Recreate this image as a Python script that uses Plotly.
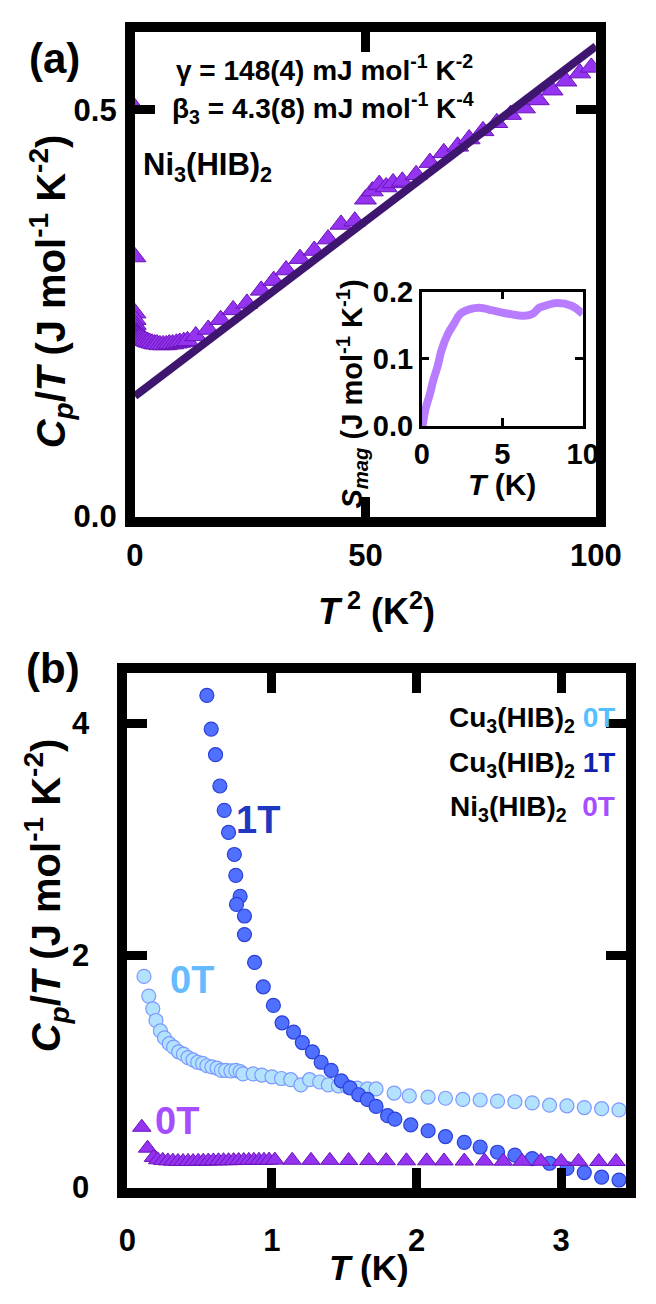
import plotly.graph_objects as go

# ---------------- data ----------------
# panel (a): Ni3(HIB)2, Cp/T vs T^2
a_T2 = [0.01, 0.02, 0.03, 0.05, 0.08, 0.12, 0.18, 0.25, 0.33, 0.42, 0.52, 0.64, 0.77, 0.91, 1.05,
        1.3, 1.6, 1.96, 2.34, 2.79, 3.2, 3.72, 4.28, 4.8, 5.43, 6.1, 6.76, 7.45, 8.18, 9.0, 9.73,
        10.6, 11.4, 13.2, 15.9, 18.6, 21.3, 24.3, 27.4, 30.1, 32.8, 35.8, 38.9, 41.9, 44.7, 47.7,
        50.0, 51.5, 53.0, 54.5, 56.0, 58.0, 61.0, 64.0, 67.0, 70.0, 72.5, 75.5, 78.5, 81.5, 84.5,
        87.5, 90.5, 93.5, 96.5, 99.0]
a_CpT = [0.502, 0.319, 0.25, 0.242, 0.236, 0.232, 0.228, 0.226, 0.225, 0.224, 0.223, 0.222, 0.222,
         0.221, 0.22, 0.219, 0.218, 0.217, 0.216, 0.215, 0.214, 0.213, 0.212, 0.212, 0.211, 0.211,
         0.211, 0.212, 0.212, 0.213, 0.214, 0.215, 0.216, 0.222, 0.23, 0.242, 0.254, 0.262, 0.278,
         0.29, 0.303, 0.317, 0.327, 0.341, 0.359, 0.363, 0.39, 0.40, 0.408, 0.405, 0.41, 0.412,
         0.42, 0.435, 0.447, 0.455, 0.464, 0.474, 0.484, 0.494, 0.502, 0.512, 0.524, 0.535, 0.545,
         0.552]
fit_T2 = [0.0, 100.0]
fit_CpT = [0.148, 0.578]

# inset: magnetic entropy
S_T = [0.05, 0.24, 0.5, 0.73, 1.0, 1.22, 1.6, 2.0, 2.4, 3.0, 3.6, 4.4, 5.4, 6.4, 6.9, 7.3, 7.8,
       8.4, 9.3, 10.0]
S_mag = [0.0, 0.026, 0.047, 0.069, 0.09, 0.112, 0.136, 0.152, 0.167, 0.174, 0.176, 0.172, 0.167,
         0.164, 0.167, 0.176, 0.180, 0.183, 0.179, 0.167]

# panel (b)
cu0_T = [0.115, 0.148, 0.176, 0.198, 0.229, 0.257, 0.29, 0.32, 0.355, 0.388, 0.42, 0.454, 0.487,
         0.52, 0.55, 0.585, 0.62, 0.65, 0.68, 0.716, 0.75, 0.78, 0.80, 0.87, 0.93, 1.0, 1.066, 1.13,
         1.2, 1.26, 1.33, 1.39, 1.46, 1.52, 1.59, 1.66, 1.72, 1.845, 1.95, 2.08, 2.2, 2.32, 2.44,
         2.56, 2.68, 2.80, 2.92, 3.04, 3.16, 3.28, 3.40]
cu0_CpT = [1.82, 1.65, 1.54, 1.44, 1.35, 1.29, 1.24, 1.21, 1.17, 1.15, 1.12, 1.10, 1.08, 1.07, 1.05,
           1.04, 1.03, 1.01, 1.01, 1.006, 1.01, 1.0, 0.98, 0.98, 0.97, 0.955, 0.94, 0.93, 0.885,
           0.93, 0.91, 0.885, 0.876, 0.87, 0.857, 0.85, 0.85, 0.815, 0.79, 0.78, 0.77, 0.76, 0.755,
           0.745, 0.74, 0.73, 0.71, 0.705, 0.69, 0.68, 0.67]
cu1_T = [0.55, 0.58, 0.61, 0.64, 0.67, 0.70, 0.74, 0.75, 0.78, 0.755, 0.81, 0.81, 0.88, 0.94, 1.01,
         1.07, 1.15, 1.21, 1.28, 1.34, 1.41, 1.48, 1.54, 1.60, 1.66, 1.72, 1.80, 1.85, 1.96, 2.08,
         2.20, 2.33, 2.44, 2.56, 2.68, 2.80, 2.92, 3.04, 3.16, 3.28, 3.40]
cu1_CpT = [4.24, 3.95, 3.73, 3.46, 3.25, 3.06, 2.87, 2.69, 2.51, 2.44, 2.34, 2.18, 1.94, 1.73, 1.57,
           1.42, 1.34, 1.25, 1.17, 1.08, 1.01, 0.92, 0.86, 0.80, 0.76, 0.70, 0.62, 0.59, 0.54, 0.49,
           0.44, 0.39, 0.35, 0.305, 0.28, 0.25, 0.21, 0.165, 0.13, 0.09, 0.065]
ni_T = [0.10, 0.14, 0.18, 0.21, 0.245, 0.28, 0.315, 0.35, 0.385, 0.42, 0.455, 0.49, 0.525, 0.56,
        0.595, 0.63, 0.665, 0.70, 0.735, 0.77, 0.805, 0.84, 0.875, 0.91, 0.945, 0.98, 1.02, 1.14,
        1.27, 1.40, 1.53, 1.67, 1.79, 1.93, 2.07, 2.19, 2.33, 2.47, 2.60, 2.73, 2.86, 3.00, 3.12,
        3.26, 3.38]
ni_CpT = [0.52, 0.34, 0.26, 0.24, 0.235, 0.23, 0.228, 0.226, 0.225, 0.226, 0.225, 0.227, 0.228,
          0.229, 0.23, 0.231, 0.232, 0.232, 0.233, 0.234, 0.234, 0.235, 0.235, 0.236, 0.236, 0.237,
          0.237, 0.236, 0.235, 0.235, 0.234, 0.233, 0.232, 0.231, 0.231, 0.23, 0.229, 0.229, 0.228,
          0.227, 0.227, 0.226, 0.226, 0.225, 0.225]

a_xticks = [0, 50, 100]
a_yticks = [0.0, 0.5]
a_yticklabels = ["0.0", "0.5"]
in_xticks = [0, 5, 10]
in_yticks = [0.0, 0.1, 0.2]
in_yticklabels = ["0.0", "0.1", "0.2"]
b_xticks = [0, 1, 2, 3]
b_yticks = [0, 2, 4]

# ---------------- style ----------------
W, H = 656, 1304
FONT = "Liberation Sans, Arial, sans-serif"
NI_FILL = "#9433f0"
NI_EDGE = "#6a14b8"
FIT_COL = "#3e1670"
CU1_FILL = "#5070ff"
CU1_EDGE = "#2a3fd8"
CU0_FILL = "#b3e2ff"
CU0_EDGE = "#7d98ff"
INSET_COL = "#b87cff"


def px(x):
    return x / W


def py(y):
    return 1 - y / H


fig = go.Figure()

fig.add_trace(go.Scatter(x=a_T2, y=a_CpT, mode="markers", xaxis="x", yaxis="y",
                         marker=dict(symbol="triangle-up", size=19, color=NI_FILL,
                                     line=dict(color=NI_EDGE, width=1)), showlegend=False))
fig.add_trace(go.Scatter(x=fit_T2, y=fit_CpT, mode="lines", xaxis="x", yaxis="y",
                         line=dict(color=FIT_COL, width=8), showlegend=False))
fig.add_trace(go.Scatter(x=S_T, y=S_mag, mode="lines", xaxis="x2", yaxis="y2",
                         line=dict(color=INSET_COL, width=8, shape="spline"), showlegend=False))
fig.add_trace(go.Scatter(x=cu0_T, y=cu0_CpT, mode="markers", xaxis="x3", yaxis="y3",
                         marker=dict(symbol="circle", size=14, color=CU0_FILL,
                                     line=dict(color=CU0_EDGE, width=1.2)), showlegend=False))
fig.add_trace(go.Scatter(x=cu1_T, y=cu1_CpT, mode="markers", xaxis="x3", yaxis="y3",
                         marker=dict(symbol="circle", size=14, color=CU1_FILL,
                                     line=dict(color=CU1_EDGE, width=1.2)), showlegend=False))
fig.add_trace(go.Scatter(x=ni_T, y=ni_CpT, mode="markers", xaxis="x3", yaxis="y3",
                         marker=dict(symbol="triangle-up", size=16, color=NI_FILL,
                                     line=dict(color=NI_EDGE, width=1)), showlegend=False))

tickfont = dict(family=FONT, size=31, color="black", weight="bold")
small_tickfont = dict(family=FONT, size=29, color="black", weight="bold")


def main_axis(**kw):
    d = dict(showline=True, linecolor="black", linewidth=10, mirror="ticks", ticks="inside",
             ticklen=20, tickwidth=9, tickcolor="black", showgrid=False, zeroline=False,
             tickfont=tickfont, fixedrange=True)
    d.update(kw)
    return d


def inset_axis(**kw):
    d = dict(showline=True, linecolor="black", linewidth=2.5, mirror="ticks", ticks="inside",
             ticklen=8, tickwidth=2.5, tickcolor="black", showgrid=False, zeroline=False,
             tickfont=small_tickfont, fixedrange=True)
    d.update(kw)
    return d


fig.update_layout(
    width=W, height=H,
    margin=dict(l=0, r=0, t=0, b=0),
    paper_bgcolor="white", plot_bgcolor="rgba(0,0,0,0)",
    showlegend=False,
    xaxis=main_axis(domain=[px(133), px(620)], range=[0, 100], tickvals=a_xticks,
                    anchor="y", ticklabelstandoff=2),
    yaxis=main_axis(domain=[py(514), py(16)], range=[0, 0.596], tickvals=a_yticks,
                    ticktext=a_yticklabels, anchor="x", ticklabelstandoff=2),
    xaxis2=inset_axis(domain=[px(436), px(606)], range=[0, 10], tickvals=in_xticks,
                      anchor="y2"),
    yaxis2=inset_axis(domain=[py(421), py(283)], range=[0, 0.2], tickvals=in_yticks,
                      ticktext=in_yticklabels, anchor="x2"),
    xaxis3=main_axis(domain=[px(125), px(652)], range=[0, 3.45], tickvals=b_xticks,
                     anchor="y3", ticklabelstandoff=16),
    yaxis3=main_axis(domain=[py(1203), py(675)], range=[0, 4.43], tickvals=b_yticks,
                     anchor="x3", ticklabelstandoff=22),
)

ann = []


def text(x, y, s, size=26, xanchor="left", yanchor="middle", color="black", angle=0,
         xref="paper", yref="paper"):
    if xref == "paper":
        x = px(x)
    if yref == "paper":
        y = py(y)
    ann.append(dict(x=x, y=y, xref=xref, yref=yref, text=s, showarrow=False,
                    xanchor=xanchor, yanchor=yanchor, textangle=angle,
                    font=dict(family=FONT, size=size, color=color, weight="bold")))


# panel (a) texts
text(48, 44, "(a)", size=42, xanchor="center")
text(174, 53, "γ = 148(4) mJ mol<sup>-1</sup> K<sup>-2</sup>", size=28)
text(170, 94, "β<sub>3</sub> = 4.3(8) mJ mol<sup>-1</sup> K<sup>-4</sup>", size=28)
text(139, 155, "Ni<sub>3</sub>(HIB)<sub>2</sub>", size=31)
text(44, 283, "<i>C</i><sub><i>p</i></sub>/<i>T</i> (J mol<sup>-1</sup> K<sup>-2</sup>)",
     size=40, xanchor="center", angle=-90)
text(388, 609, "<i>T</i><sup> 2</sup> (K<sup>2</sup>)", size=36, xanchor="center")
# inset titles
text(362, 388, "<i>S</i><sub><i>mag</i></sub> (J mol<sup>-1</sup> K<sup>-1</sup>)", size=29,
     xanchor="center", angle=-90)
text(521, 481, "<i>T</i> (K)", size=30, xanchor="center")

# panel (b) texts
text(47, 670, "(b)", size=42, xanchor="center")
text(40, 903, "<i>C</i><sub><i>p</i></sub>/<i>T</i> (J mol<sup>-1</sup> K<sup>-2</sup>)",
     size=40, xanchor="center", angle=-90)
text(380, 1285, "<i>T</i> (K)", size=35, xanchor="center")
text(642, 722, "Cu<sub>3</sub>(HIB)<sub>2</sub> <span style='color:#55c0ff'>0T</span>",
     size=28, xanchor="right")
text(642, 769, "Cu<sub>3</sub>(HIB)<sub>2</sub> <span style='color:#1020b0'>1T</span>",
     size=28, xanchor="right")
text(642, 814, "Ni<sub>3</sub>(HIB)<sub>2</sub>  <span style='color:#a64dff'>0T</span>",
     size=28, xanchor="right")
text(0.74, 3.17, "1T", size=38, color="#2038c0", xref="x3", yref="y3")
text(0.28, 1.79, "0T", size=38, color="#66bbff", xref="x3", yref="y3")
text(0.18, 0.57, "0T", size=38, color="#a64dff", xref="x3", yref="y3")

fig.update_layout(annotations=ann)

fig.write_html("out.html", config={"displayModeBar": False},
               post_script="document.body.style.margin='0px';")
